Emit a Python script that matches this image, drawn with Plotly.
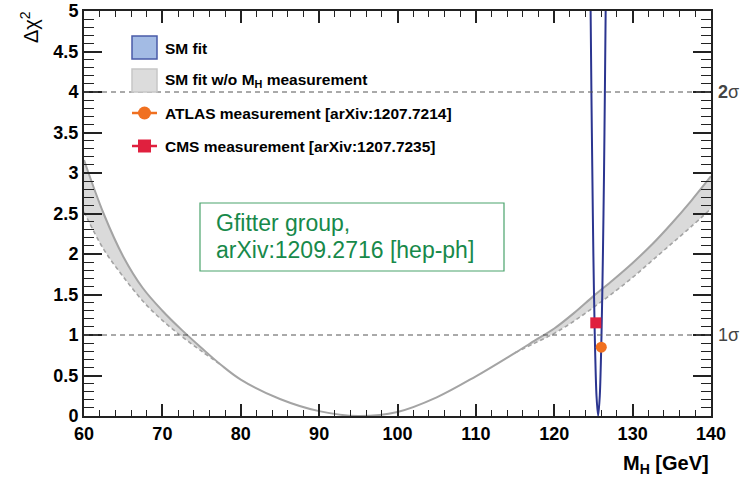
import plotly.graph_objects as go

# ---- data -------------------------------------------------------------
# SM fit without the M_H measurement: grey band between two curves
BAND_MH = [60, 62.5, 65, 67.5, 70, 72.5, 75, 77.5, 80, 85, 90, 95, 100, 105,
           110, 115, 117.5, 120, 122.5, 125, 127.5, 130, 132.5, 135, 137.5, 140]
BAND_UPPER = [3.16, 2.50, 1.97, 1.58, 1.30, 1.06, 0.84, 0.63, 0.45, 0.21, 0.06,
              0.00, 0.05, 0.23, 0.49, 0.78, 0.93, 1.08, 1.27, 1.48, 1.68, 1.89,
              2.12, 2.38, 2.66, 2.96]
BAND_LOWER = [2.52, 2.06, 1.72, 1.42, 1.18, 0.98, 0.80, 0.63, 0.45, 0.21, 0.06,
              0.00, 0.05, 0.23, 0.49, 0.78, 0.90, 1.02, 1.17, 1.34, 1.52, 1.71,
              1.92, 2.13, 2.34, 2.56]

# Full SM fit (narrow parabola)
SM_MH = [124.64, 124.74, 124.86, 124.99, 125.17, 125.39, 125.60, 125.81,
         126.03, 126.21, 126.35, 126.46, 126.56]
SM_DCHI2 = [5, 4, 3, 2, 1, 0.25, 0, 0.25, 1, 2, 3, 4, 5]

# Direct measurements
ATLAS_MH, ATLAS_Y = [126.0], [0.85]
CMS_MH, CMS_Y = [125.3], [1.15]

SIGMA_LEVELS = [1, 4]
SIGMA_LABELS = ["1σ", "<b>2</b>σ"]

LEGEND_LABELS = ["SM fit", "SM fit w/o M<sub>H</sub> measurement",
                 "ATLAS measurement [arXiv:1207.7214]",
                 "CMS measurement [arXiv:1207.7235]"]
NOTE_LINES = ["Gfitter group,", "arXiv:1209.2716 [hep-ph]"]

# ---- colours ----------------------------------------------------------
GREY_FILL = "#dadada"
GREY_LINE = "#a4a4a4"
NAVY = "#2b3590"
ORANGE = "#f07020"
RED = "#e0203e"
GREEN = "#17894a"
FONT = "Liberation Sans"

# plot-area geometry in pixels
L, T, W, H = 84, 11, 627, 405


def pxx(x):
    return (x - L) / W


def pxy(y):
    return (T + H - y) / H


# split the lower curve into the parts where it departs from the upper one
def separate_segments(xs, lo, hi):
    segs, cur = [], []
    for i, (x, a, b) in enumerate(zip(xs, lo, hi)):
        near = (i > 0 and lo[i - 1] != hi[i - 1]) or (i + 1 < len(xs) and lo[i + 1] != hi[i + 1])
        if a != b or near:
            cur.append((x, a))
        elif cur:
            segs.append(cur)
            cur = []
    if cur:
        segs.append(cur)
    return segs


SMOOTH = 1.0
fig = go.Figure()

# grey band
fig.add_trace(go.Scatter(x=BAND_MH, y=BAND_LOWER, mode="lines",
                         line=dict(width=0, shape="spline", smoothing=SMOOTH),
                         hoverinfo="skip", showlegend=False))
fig.add_trace(go.Scatter(x=BAND_MH, y=BAND_UPPER, mode="lines", fill="tonexty",
                         fillcolor=GREY_FILL,
                         line=dict(color=GREY_LINE, width=2, shape="spline", smoothing=SMOOTH),
                         showlegend=False))
for seg in separate_segments(BAND_MH, BAND_LOWER, BAND_UPPER):
    fig.add_trace(go.Scatter(x=[p[0] for p in seg], y=[p[1] for p in seg], mode="lines",
                             line=dict(color=GREY_LINE, width=1.6, dash="4px,3px",
                                       shape="spline", smoothing=SMOOTH),
                             showlegend=False))

# SM fit
fig.add_trace(go.Scatter(x=SM_MH, y=SM_DCHI2, mode="lines",
                         line=dict(color=NAVY, width=2, shape="spline", smoothing=0.8),
                         showlegend=False))

# measurements
fig.add_trace(go.Scatter(x=CMS_MH, y=CMS_Y, mode="markers",
                         marker=dict(symbol="square", size=11, color=RED),
                         showlegend=False))
fig.add_trace(go.Scatter(x=ATLAS_MH, y=ATLAS_Y, mode="markers",
                         marker=dict(symbol="circle", size=11, color=ORANGE),
                         showlegend=False))

shapes = []
annotations = []

# 1 sigma / 2 sigma reference lines
for lvl, lab in zip(SIGMA_LEVELS, SIGMA_LABELS):
    shapes.append(dict(type="line", xref="paper", yref="y", x0=0, x1=1, y0=lvl, y1=lvl,
                       line=dict(color="#555555", width=1, dash="5px,4px")))
    annotations.append(dict(xref="paper", yref="y", x=pxx(716), y=lvl, text=lab,
                            showarrow=False, xanchor="left", yanchor="middle",
                            font=dict(family=FONT, size=18, color="#444444")))

# hand-built legend
rows_y = [49, 80, 113, 146]
sx0, sx1 = 132, 157
shapes.append(dict(type="rect", xref="paper", yref="paper",
                   x0=pxx(sx0), x1=pxx(sx1), y0=pxy(59), y1=pxy(36),
                   fillcolor="#a3bbe4", line=dict(color="#4a5ba8", width=1.5)))
shapes.append(dict(type="rect", xref="paper", yref="paper",
                   x0=pxx(sx0), x1=pxx(sx1), y0=pxy(92), y1=pxy(69),
                   fillcolor="#dcdcdc", line=dict(color="#c6c6c6", width=1.5)))
for yy, col in ((rows_y[2], ORANGE), (rows_y[3], RED)):
    shapes.append(dict(type="line", xref="paper", yref="paper",
                       x0=pxx(sx0), x1=pxx(sx1), y0=pxy(yy), y1=pxy(yy),
                       line=dict(color=col, width=2.5)))
cx = (sx0 + sx1) / 2
shapes.append(dict(type="circle", xref="paper", yref="paper",
                   x0=pxx(cx - 6.5), x1=pxx(cx + 6.5), y0=pxy(rows_y[2] + 6.5), y1=pxy(rows_y[2] - 6.5),
                   fillcolor=ORANGE, line=dict(color=ORANGE, width=0)))
shapes.append(dict(type="rect", xref="paper", yref="paper",
                   x0=pxx(cx - 6.5), x1=pxx(cx + 6.5), y0=pxy(rows_y[3] + 6.5), y1=pxy(rows_y[3] - 6.5),
                   fillcolor=RED, line=dict(color=RED, width=0)))
for yy, lab in zip(rows_y, LEGEND_LABELS):
    annotations.append(dict(xref="paper", yref="paper", x=pxx(163), y=pxy(yy), text=lab,
                            showarrow=False, xanchor="left", yanchor="middle",
                            font=dict(family=FONT, size=15.5, color="black", weight="bold")))

# Gfitter note box
shapes.append(dict(type="rect", xref="paper", yref="paper",
                   x0=pxx(200), x1=pxx(504), y0=pxy(271), y1=pxy(203),
                   fillcolor="white", line=dict(color="#4aa36c", width=1.2)))
for yy, txt in zip([223, 250], NOTE_LINES):
    annotations.append(dict(xref="paper", yref="paper", x=pxx(214), y=pxy(yy), text=txt,
                            showarrow=False, xanchor="left", yanchor="middle",
                            font=dict(family=FONT, size=23, color=GREEN)))

# axis titles
annotations.append(dict(xref="paper", yref="paper", x=pxx(29), y=pxy(27),
                        text="Δχ<sup>2</sup>", textangle=-90, showarrow=False,
                        xanchor="center", yanchor="middle",
                        font=dict(family=FONT, size=20, color="black")))
annotations.append(dict(xref="paper", yref="paper", x=pxx(711), y=pxy(464),
                        text="<b>M<sub>H</sub> [GeV]</b>", showarrow=False,
                        xanchor="right", yanchor="middle",
                        font=dict(family=FONT, size=20, color="black")))

axis_common = dict(showgrid=False, zeroline=False, showline=True, linecolor="#222222",
                   linewidth=2, mirror="allticks", ticks="inside", tickcolor="#222222",
                   tickwidth=1.5, automargin=False,
                   tickprefix="<b>", ticksuffix="</b>",
                   tickfont=dict(family=FONT, size=18, color="black"))

fig.update_layout(
    width=743, height=480, autosize=False,
    margin=dict(l=L, r=743 - L - W, t=T, b=480 - T - H),
    paper_bgcolor="white", plot_bgcolor="white",
    showlegend=False,
    shapes=shapes, annotations=annotations,
    xaxis=dict(range=[60, 140], tick0=60, dtick=10, ticklen=12,
               minor=dict(dtick=2, ticklen=6, ticks="inside", tickcolor="#222222", tickwidth=1.2),
               **axis_common),
    yaxis=dict(range=[0, 5], tick0=0, dtick=0.5, ticklen=18,
               minor=dict(dtick=0.1, ticklen=10, ticks="inside", tickcolor="#222222", tickwidth=1.2),
               **axis_common),
)

fig.write_html("out.html")
